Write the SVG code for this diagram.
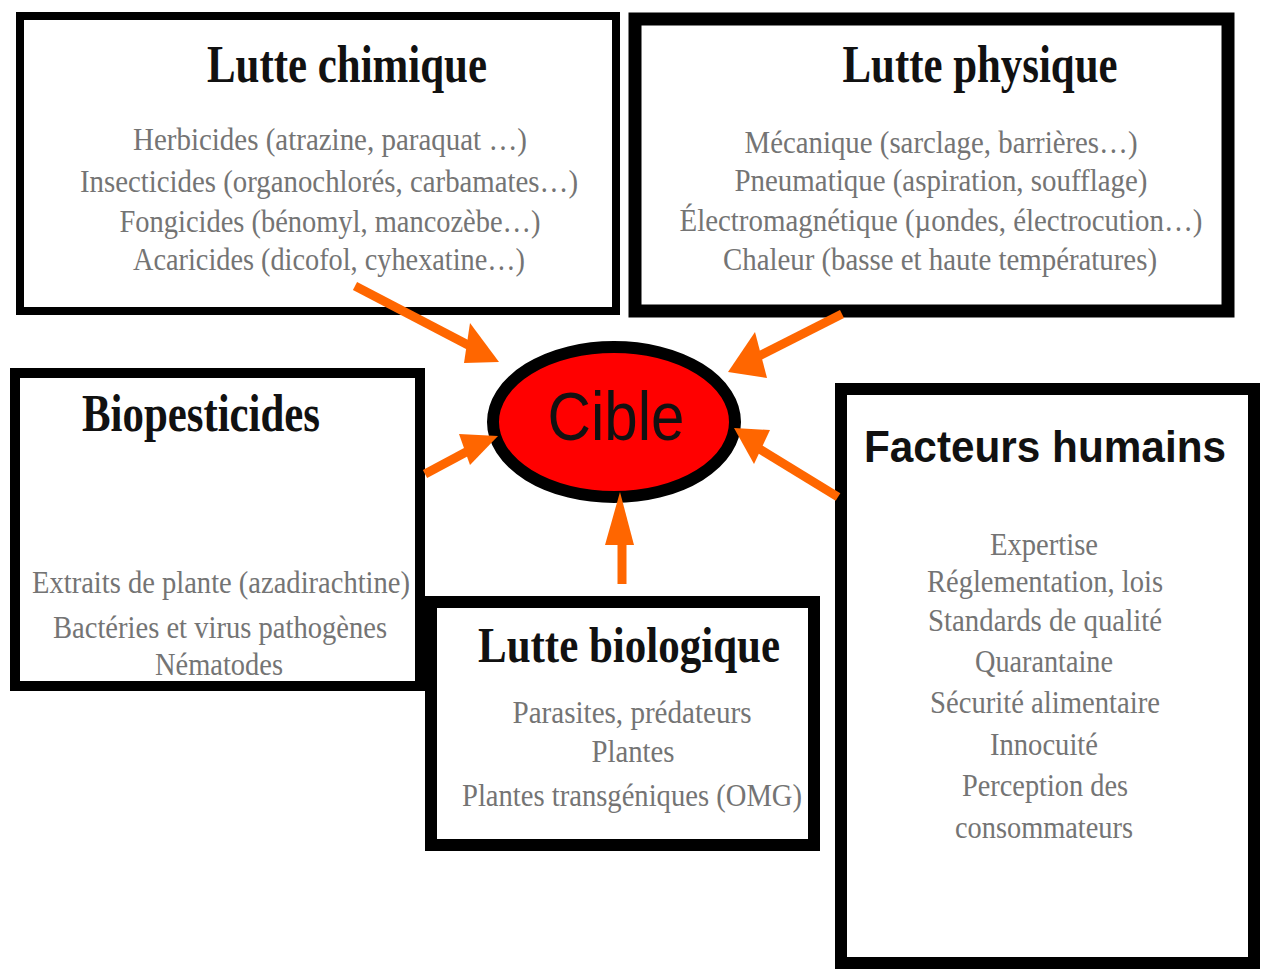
<svg xmlns="http://www.w3.org/2000/svg" width="1262" height="969" viewBox="0 0 1262 969">
<style>
.box{fill:#fff;stroke:#000}
.t{font-family:"Liberation Serif","Times New Roman",serif;font-weight:bold;fill:#111;text-anchor:middle}
.ts{font-family:"Liberation Sans",Arial,sans-serif;font-weight:bold;fill:#111;text-anchor:middle}
.b{font-family:"Liberation Serif","Times New Roman",serif;fill:#747474;text-anchor:middle;font-size:31px}
.sh{stroke:#ff6600;stroke-width:9;fill:none}
.hd{fill:#ff6600}
</style>
<rect width="1262" height="969" fill="#fff"/>
<g id="node-chimique">
<rect class="box" x="20" y="16" width="596" height="295" stroke-width="8"/>
<text class="t" x="347" y="82" font-size="52" textLength="280" lengthAdjust="spacingAndGlyphs">Lutte chimique</text>
<text class="b" x="330" y="150" textLength="394" lengthAdjust="spacingAndGlyphs">Herbicides (atrazine, paraquat …)</text>
<text class="b" x="329" y="192" textLength="498" lengthAdjust="spacingAndGlyphs">Insecticides (organochlorés, carbamates…)</text>
<text class="b" x="330" y="232" textLength="421" lengthAdjust="spacingAndGlyphs">Fongicides (bénomyl, mancozèbe…)</text>
<text class="b" x="329" y="270" textLength="392" lengthAdjust="spacingAndGlyphs">Acaricides (dicofol, cyhexatine…)</text>
</g>
<g id="node-physique">
<rect class="box" x="635" y="19" width="593" height="292" stroke-width="13"/>
<text class="t" x="980" y="82" font-size="52" textLength="275" lengthAdjust="spacingAndGlyphs">Lutte physique</text>
<text class="b" x="941" y="153" textLength="393" lengthAdjust="spacingAndGlyphs">Mécanique (sarclage, barrières…)</text>
<text class="b" x="941" y="191" textLength="413" lengthAdjust="spacingAndGlyphs">Pneumatique (aspiration, soufflage)</text>
<text class="b" x="941" y="231" textLength="523" lengthAdjust="spacingAndGlyphs">Électromagnétique (µondes, électrocution…)</text>
<text class="b" x="940" y="270" textLength="434" lengthAdjust="spacingAndGlyphs">Chaleur (basse et haute températures)</text>
</g>
<g id="node-biopesticides">
<rect class="box" x="15" y="373" width="405" height="313" stroke-width="10"/>
<text class="t" x="201" y="431" font-size="52" textLength="238" lengthAdjust="spacingAndGlyphs">Biopesticides</text>
<text class="b" x="221" y="593" textLength="378" lengthAdjust="spacingAndGlyphs">Extraits de plante (azadirachtine)</text>
<text class="b" x="220" y="638" textLength="334" lengthAdjust="spacingAndGlyphs">Bactéries et virus pathogènes</text>
<text class="b" x="219" y="675" textLength="128" lengthAdjust="spacingAndGlyphs">Nématodes</text>
</g>
<g id="node-biologique">
<rect class="box" x="431" y="602" width="383" height="243" stroke-width="12"/>
<text class="t" x="629" y="662" font-size="50" textLength="302" lengthAdjust="spacingAndGlyphs">Lutte biologique</text>
<text class="b" x="632" y="723" textLength="239" lengthAdjust="spacingAndGlyphs">Parasites, prédateurs</text>
<text class="b" x="633" y="762" textLength="83" lengthAdjust="spacingAndGlyphs">Plantes</text>
<text class="b" x="632" y="806" textLength="340" lengthAdjust="spacingAndGlyphs">Plantes transgéniques (OMG)</text>
</g>
<g id="node-humains">
<rect class="box" x="841" y="389" width="413" height="574" stroke-width="12"/>
<text class="ts" x="1045" y="462" font-size="44" textLength="362" lengthAdjust="spacingAndGlyphs">Facteurs humains</text>
<text class="b" x="1044" y="555" textLength="108" lengthAdjust="spacingAndGlyphs">Expertise</text>
<text class="b" x="1045" y="592" textLength="236" lengthAdjust="spacingAndGlyphs">Réglementation, lois</text>
<text class="b" x="1045" y="631" textLength="234" lengthAdjust="spacingAndGlyphs">Standards de qualité</text>
<text class="b" x="1044" y="672" textLength="138" lengthAdjust="spacingAndGlyphs">Quarantaine</text>
<text class="b" x="1045" y="713" textLength="230" lengthAdjust="spacingAndGlyphs">Sécurité alimentaire</text>
<text class="b" x="1044" y="755" textLength="108" lengthAdjust="spacingAndGlyphs">Innocuité</text>
<text class="b" x="1045" y="796" textLength="166" lengthAdjust="spacingAndGlyphs">Perception des</text>
<text class="b" x="1044" y="838" textLength="178" lengthAdjust="spacingAndGlyphs">consommateurs</text>
</g>
<g id="node-cible">
<ellipse cx="614" cy="422" rx="121" ry="75" fill="#ff0000" stroke="#000" stroke-width="12"/>
<text x="616" y="440" font-family="'Liberation Sans',Arial,sans-serif" font-size="68" fill="#111" text-anchor="middle" textLength="137" lengthAdjust="spacingAndGlyphs">Cible</text>
</g>
<g id="connectors">
<line class="sh" x1="355" y1="286" x2="470" y2="346"/>
<polygon class="hd" points="499,362 464,363 470,323"/>
<line class="sh" x1="842" y1="314" x2="757" y2="357"/>
<polygon class="hd" points="728,372 755,332 767,378"/>
<line class="sh" x1="425" y1="474" x2="468" y2="451"/>
<polygon class="hd" points="498,436 459,434 470,465"/>
<line class="sh" x1="838" y1="497" x2="758" y2="448"/>
<polygon class="hd" points="734,428 770,430 754,464"/>
<line class="sh" x1="622" y1="538" x2="622" y2="584" stroke-width="10"/>
<polygon class="hd" points="620,492 605,545 634,545"/>
</g>
</svg>
